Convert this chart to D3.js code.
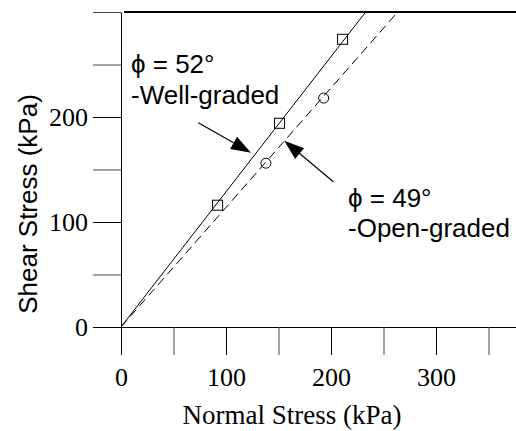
<!DOCTYPE html>
<html>
<head>
<meta charset="utf-8">
<script src="https://cdn.jsdelivr.net/npm/d3@7"></script>
<style>
  html, body { margin: 0; padding: 0; background: #fff; }
  svg { display: block; }
  .serif { font-family: 'Liberation Serif', 'Times New Roman', Times, serif !important; }
</style>
</head>
<body>
<svg id="chart" width="516" height="431"></svg>
<script>
// ---- data ----
const wellGradedX = [92, 151, 211];
const wellGradedY = [116, 194, 274];
const openGradedX = [138, 193];
const openGradedY = [156, 218];
// failure envelopes (through origin, to top of plot)
const wellLineX = [0, 233];
const wellLineY = [0, 300];
const openLineX = [0, 263.5];
const openLineY = [0, 300];
const xTicks = [0, 50, 100, 150, 200, 250, 300, 350];
const yTicks = [0, 50, 100, 150, 200, 250, 300];
const xTickLabels = ["0", "", "100", "", "200", "", "300", ""];
const yTickLabels = ["0", "", "100", "", "200", "", ""];
const xTitle = "Normal Stress (kPa)";
const yTitle = "Shear Stress (kPa)";
const label1 = ["\u03D5 = 52\u00B0", "-Well-graded"];
const label2 = ["\u03D5 = 49\u00B0", "-Open-graded"];

const W = 516, H = 431;
const svg = d3.select("#chart");
const serif = "'Liberation Serif', 'Times New Roman', Times, serif";
const sans = "'Liberation Sans', Arial, Helvetica, sans-serif";

const x0 = 121, y0 = 327, pxPerUnit = 1.05;
const x = d3.scaleLinear().domain([0, (W - x0) / pxPerUnit]).range([x0, W]);
const y = d3.scaleLinear().domain([0, 300]).range([y0, y0 - 300 * pxPerUnit]);

// X axis
const xAxis = d3.axisBottom(x)
  .tickValues(xTicks)
  .tickSize(28)
  .tickSizeOuter(0)
  .tickPadding(13)
  .tickFormat((d, i) => xTickLabels[i]);
const gx = svg.append("g").attr("transform", `translate(0,${y0})`).call(xAxis);
gx.attr("font-family", serif).attr("font-size", 26);
gx.selectAll("text").attr("class", "serif").style("font-size", "26px").attr("fill", "#000");
gx.selectAll("line, path").attr("stroke", "#000");
gx.selectAll(".tick line").attr("stroke", (d, i) => xTickLabels[i] === "" ? "#444" : "#000");

// Y axis
const yAxis = d3.axisLeft(y)
  .tickValues(yTicks)
  .tickSize(28)
  .tickSizeOuter(0)
  .tickPadding(5)
  .tickFormat((d, i) => yTickLabels[i]);
const gy = svg.append("g").attr("transform", `translate(${x0},0)`).call(yAxis);
gy.attr("font-family", serif).attr("font-size", 26);
gy.selectAll("text").attr("class", "serif").style("font-size", "26px").attr("fill", "#000");
gy.selectAll("line, path").attr("stroke", "#000");
gy.selectAll(".tick line").attr("stroke", (d, i) => yTickLabels[i] === "" ? "#444" : "#000");

// Top frame line
svg.append("line")
  .attr("x1", x(0) + 3).attr("x2", W)
  .attr("y1", y(300)).attr("y2", y(300))
  .attr("stroke", "#000").attr("stroke-width", 2);

// Titles
svg.append("text")
  .attr("x", 292).attr("y", 424)
  .attr("text-anchor", "middle")
  .attr("class", "serif").style("font-size", "27px")
  .text(xTitle);
svg.append("text")
  .attr("transform", `translate(37,204) rotate(-90)`)
  .attr("text-anchor", "middle")
  .attr("font-family", sans).attr("font-size", 26)
  .text(yTitle);

// Envelope lines
const lineGen = d3.line().x(d => x(d[0])).y(d => y(d[1]));
svg.append("path")
  .datum(wellLineX.map((v, i) => [v, wellLineY[i]]))
  .attr("d", lineGen).attr("fill", "none").attr("stroke", "#000").attr("stroke-width", 1);
svg.append("path")
  .datum(openLineX.map((v, i) => [v, openLineY[i]]))
  .attr("d", lineGen).attr("fill", "none").attr("stroke", "#000").attr("stroke-width", 1)
  .attr("stroke-dasharray", "9,5");

// Markers
const sq = 10;
svg.selectAll("rect.well")
  .data(wellGradedX.map((v, i) => [v, wellGradedY[i]]))
  .join("rect").attr("class", "well")
  .attr("x", d => x(d[0]) - sq / 2).attr("y", d => y(d[1]) - sq / 2)
  .attr("width", sq).attr("height", sq)
  .attr("fill", "none").attr("stroke", "#000").attr("stroke-width", 1);
svg.selectAll("circle.open")
  .data(openGradedX.map((v, i) => [v, openGradedY[i]]))
  .join("circle").attr("class", "open")
  .attr("cx", d => x(d[0])).attr("cy", d => y(d[1])).attr("r", 5)
  .attr("fill", "none").attr("stroke", "#000").attr("stroke-width", 1);

// Annotations
function addLabel(lines, px, py, gap) {
  const t = svg.append("text").attr("font-family", sans).attr("font-size", 26).attr("fill", "#000");
  lines.forEach((s, i) => {
    t.append("tspan").attr("x", px).attr("y", py + i * gap).text(s);
  });
}
addLabel(label1, x(9.5), y(241.5), 31);
addLabel(label2, x(216.2), y(114.3), 30);

function arrow(xs, ys, xt, yt) {
  const x1 = x(xs), y1 = y(ys), x2 = x(xt), y2 = y(yt);
  const ang = Math.atan2(y2 - y1, x2 - x1);
  const L = 20, hw = 7;
  const bx = x2 - L * Math.cos(ang), by = y2 - L * Math.sin(ang);
  svg.append("line").attr("x1", x1).attr("y1", y1).attr("x2", bx).attr("y2", by)
    .attr("stroke", "#000").attr("stroke-width", 1.2);
  const p1 = [bx + hw * Math.sin(ang), by - hw * Math.cos(ang)];
  const p2 = [bx - hw * Math.sin(ang), by + hw * Math.cos(ang)];
  svg.append("path").attr("d", `M${x2},${y2}L${p1[0]},${p1[1]}L${p2[0]},${p2[1]}Z`)
    .attr("fill", "#000");
}
arrow(73.6, 194.6, 123.8, 166.0);
arrow(202.2, 138.4, 155.5, 177.4);
</script>
</body>
</html>
